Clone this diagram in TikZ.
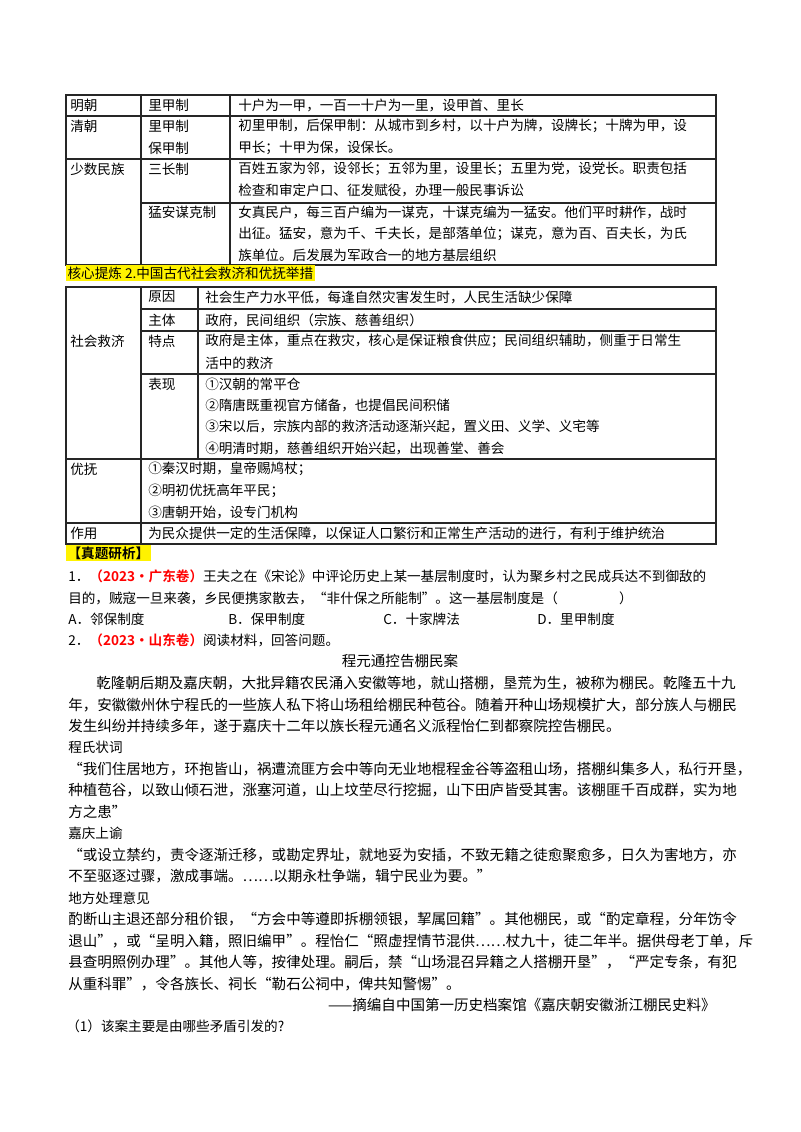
\documentclass[tikz,border=0pt]{standalone}
\usepackage{fontspec}
\setmainfont{Noto Sans CJK SC}
\newfontfamily\cjkb{Noto Sans CJK SC Bold}
\newcounter{tn}
\newcommand\T[3]{\stepcounter{tn}\node[txt] (t\thetn) at (#1,#2) {#3};}
\newcommand\M[3]{\stepcounter{tn}\node[txt,mat] (t\thetn) at (#1,#2) {#3};}
\newcommand\Red[1]{{\color{red}\cjkb #1}}
\begin{document}
\begin{tikzpicture}[x=0.75pt,y=-0.75pt,
  txt/.style={anchor=west,inner sep=0pt,font=\fontsize{10.2pt}{12pt}\selectfont},
  mat/.style={font=\fontsize{10.9pt}{12pt}\selectfont},
  rule/.style={line width=0.8pt,draw=black!85},
  hl/.style={fill=yellow,draw=none,inner xsep=1pt,inner ysep=1.5pt}]
\useasboundingbox (0,0) rectangle (800,1132);
% table 1
\draw[rule] (66,95) rectangle (716,265);
\draw[rule] (66,116) -- (716,116) (66,159) -- (716,159) (141,203) -- (716,203);
\draw[rule] (141,95) -- (141,265) (230,95) -- (230,265);
\T{70}{105}{明朝}\T{148}{105}{里甲制}\T{238}{105}{十户为一甲，一百一十户为一里，设甲首、里长}
\T{70}{126}{清朝}\T{148}{126}{里甲制}\T{148}{148}{保甲制}
\T{238}{126}{初里甲制，后保甲制：从城市到乡村，以十户为牌，设牌长；十牌为甲，设}
\T{238}{148}{甲长；十甲为保，设保长。}
\T{70}{169}{少数民族}\T{148}{169}{三长制}
\T{238}{169}{百姓五家为邻，设邻长；五邻为里，设里长；五里为党，设党长。职责包括}
\T{238}{190}{检查和审定户口、征发赋役，办理一般民事诉讼}
\T{148}{212}{猛安谋克制}
\T{238}{212}{女真民户，每三百户编为一谋克，十谋克编为一猛安。他们平时耕作，战时}
\T{238}{234}{出征。猛安，意为千、千夫长，是部落单位；谋克，意为百、百夫长，为氏}
\T{238}{255}{族单位。后发展为军政合一的地方基层组织}
% heading
\node[txt,hl,anchor=west] (head) at (66,273) {核心提炼\ 2.中国古代社会救济和优抚举措};
% table 2
\draw[rule] (66,287) rectangle (716,544);
\draw[rule] (141,309) -- (716,309) (141,331) -- (716,331) (141,374) -- (716,374);
\draw[rule] (66,459) -- (716,459) (66,523) -- (716,523);
\draw[rule] (141,287) -- (141,544) (198,287) -- (198,459);
\T{70}{341}{社会救济}
\T{148}{297}{原因}\T{205}{297}{社会生产力水平低，每逢自然灾害发生时，人民生活缺少保障}
\T{148}{320}{主体}\T{205}{320}{政府，民间组织（宗族、慈善组织）}
\T{148}{341}{特点}\T{205}{341}{政府是主体，重点在救灾，核心是保证粮食供应；民间组织辅助，侧重于日常生}
\T{205}{363}{活中的救济}
\T{148}{384}{表现}\T{205}{384}{①汉朝的常平仓}
\T{205}{405}{②隋唐既重视官方储备，也提倡民间积储}
\T{205}{426}{③宋以后，宗族内部的救济活动逐渐兴起，置义田、义学、义宅等}
\T{205}{448}{④明清时期，慈善组织开始兴起，出现善堂、善会}
\T{70}{469}{优抚}\T{148}{469}{①秦汉时期，皇帝赐鸠杖；}
\T{148}{491}{②明初优抚高年平民；}\T{148}{512}{③唐朝开始，设专门机构}
\T{70}{533}{作用}\T{148}{533}{为民众提供一定的生活保障，以保证人口繁衍和正常生产活动的进行，有利于维护统治}
% questions
\node[txt,hl,anchor=west] (zt) at (66,553) {\cjkb 【真题研析】};
\T{68}{576}{1．\Red{（2023·广东卷）}王夫之在《宋论》中评论历史上某一基层制度时，认为聚乡村之民成兵达不到御敌的}
\T{68}{598}{目的，贼寇一旦来袭，乡民便携家散去，“非什保之所能制”。这一基层制度是（\hspace{4.5em}）}
\T{68}{619}{A．邻保制度}\T{228}{619}{B．保甲制度}\T{383}{619}{C．十家牌法}\T{537}{619}{D．里甲制度}
\T{68}{640}{2．\Red{（2023·山东卷）}阅读材料，回答问题。}
\stepcounter{tn}\node[txt,mat,anchor=center] (title) at (400,661) {程元通控告棚民案};
\M{96}{683}{乾隆朝后期及嘉庆朝，大批异籍农民涌入安徽等地，就山搭棚，垦荒为生，被称为棚民。乾隆五十九}
\M{68}{705}{年，安徽徽州休宁程氏的一些族人私下将山场租给棚民种苞谷。随着开种山场规模扩大，部分族人与棚民}
\M{68}{726}{发生纠纷并持续多年，遂于嘉庆十二年以族长程元通名义派程怡仁到都察院控告棚民。}
\T{68}{747}{程氏状词}
\M{68}{769}{“我们住居地方，环抱皆山，祸遭流匪方会中等向无业地棍程金谷等盗租山场，搭棚纠集多人，私行开垦，}
\M{68}{790}{种植苞谷，以致山倾石泄，涨塞河道，山上坟茔尽行挖掘，山下田庐皆受其害。该棚匪千百成群，实为地}
\M{68}{812}{方之患”}
\T{68}{833}{嘉庆上谕}
\M{68}{855}{“或设立禁约，责令逐渐迁移，或勘定界址，就地妥为安插，不致无籍之徒愈聚愈多，日久为害地方，亦}
\M{68}{876}{不至驱逐过骤，激成事端。……以期永杜争端，辑宁民业为要。”}
\T{68}{898}{地方处理意见}
\M{68}{919}{酌断山主退还部分租价银，“方会中等遵即拆棚领银，挈属回籍”。其他棚民，或“酌定章程，分年饬令}
\M{68}{941}{退山”，或“呈明入籍，照旧编甲"。程怡仁“照虚捏情节混供……杖九十，徒二年半。据供母老丁单，斥}
\M{68}{962}{县查明照例办理”。其他人等，按律处理。嗣后，禁“山场混召异籍之人搭棚开垦”，“严定专条，有犯}
\M{68}{984}{从重科罪”，令各族长、祠长“勒石公祠中，俾共知警惕”。}
\stepcounter{tn}\node[txt,mat,anchor=east] (src) at (716,1005) {——摘编自中国第一历史档案馆《嘉庆朝安徽浙江棚民史料》};
\T{66}{1026}{（1）该案主要是由哪些矛盾引发的?}
\end{tikzpicture}
\end{document}
